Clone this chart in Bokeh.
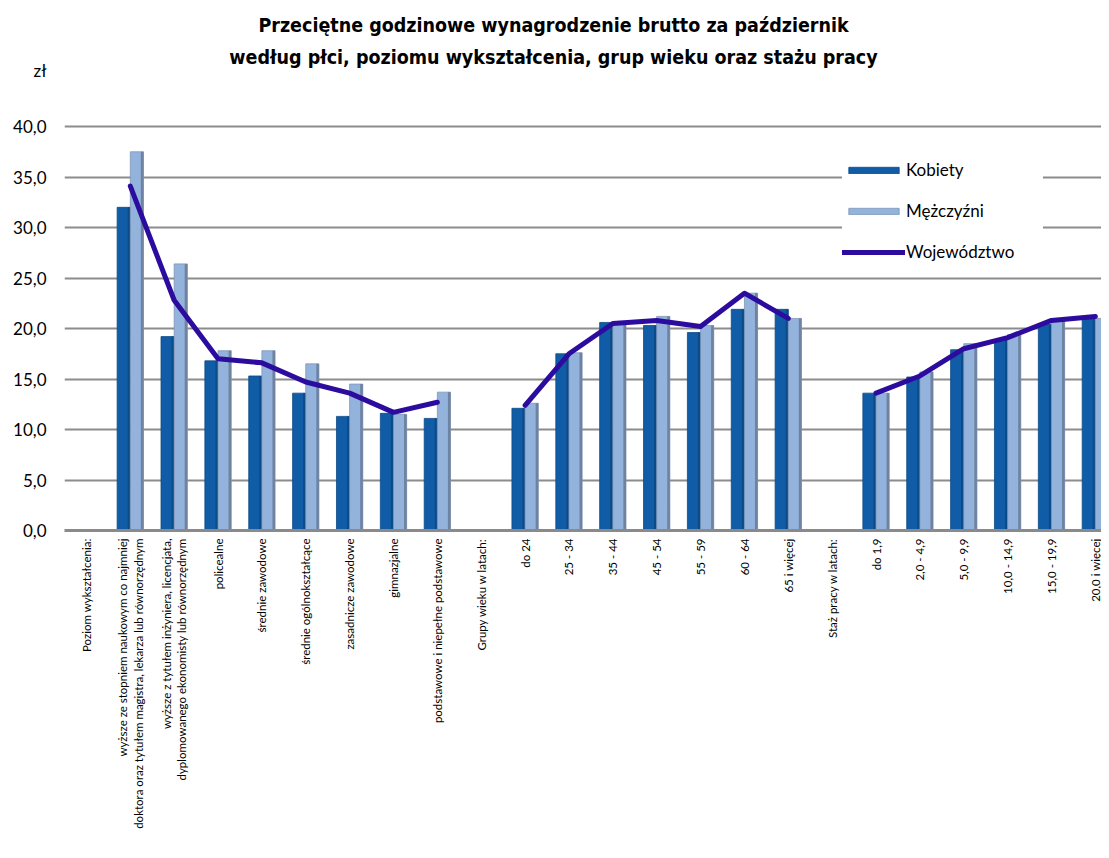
import math
from bokeh.plotting import figure
from bokeh.models import (ColumnDataSource, Range1d, FixedTicker, Legend,
                          LegendItem, Label)
from bokeh.embed import file_html
from bokeh.resources import INLINE

nan = float("nan")

title_lines = [
    "Przeciętne godzinowe wynagrodzenie brutto za październik",
    "według płci, poziomu wykształcenia, grup wieku oraz stażu pracy",
]
unit_label = "zł"

categories = [
    "Poziom wykształcenia:",
    "wyższe ze stopniem naukowym co najmniej\ndoktora oraz tytułem magistra, lekarza lub równorzędnym",
    "wyższe z tytułem inżyniera, licencjata,\ndyplomowanego ekonomisty lub równorzędnym",
    "policealne",
    "średnie zawodowe",
    "średnie ogólnokształcące",
    "zasadnicze zawodowe",
    "gimnazjalne",
    "podstawowe i niepełne podstawowe",
    "Grupy wieku w latach:",
    "do 24",
    "25 - 34",
    "35 - 44",
    "45 - 54",
    "55 - 59",
    "60 - 64",
    "65 i więcej",
    "Staż pracy w latach:",
    "do 1,9",
    "2,0 - 4,9",
    "5,0 - 9,9",
    "10,0 - 14,9",
    "15,0 - 19,9",
    "20,0 i więcej",
]

kobiety = [nan, 32.0, 19.2, 16.8, 15.3, 13.6, 11.3, 11.6, 11.1,
           nan, 12.1, 17.5, 20.6, 20.3, 19.6, 21.9, 21.9,
           nan, 13.6, 15.2, 17.9, 18.9, 20.4, 21.2]
mezczyzni = [nan, 37.5, 26.4, 17.8, 17.8, 16.5, 14.5, 11.5, 13.7,
             nan, 12.6, 17.6, 20.4, 21.2, 20.3, 23.5, 21.0,
             nan, 13.6, 15.7, 18.5, 19.4, 20.9, 21.0]
wojewodztwo = [nan, 34.1, 22.8, 17.0, 16.6, 14.7, 13.6, 11.7, 12.7,
               nan, 12.4, 17.5, 20.5, 20.8, 20.2, 23.5, 21.0,
               nan, 13.6, 15.3, 18.0, 19.1, 20.8, 21.2]

series_names = ["Kobiety", "Mężczyźni", "Województwo"]
y_ticks = [0, 5, 10, 15, 20, 25, 30, 35, 40]
unit_tick = 45.5   # where the unit label sits on the value axis

idx = list(range(len(categories)))
BW = 0.3
src = ColumnDataSource(dict(
    x=idx,
    xk=[i - BW / 2 for i in idx],
    xm=[i + BW / 2 for i in idx],
    xme=[i + BW - 0.03 for i in idx],
    xke=[i - 0.03 for i in idx],
    k=kobiety, m=mezczyzni, w=wojewodztwo,
))

W, H = 1101, 842
p = figure(width=W, height=H,
           x_range=Range1d(-0.5, 23.14), y_range=Range1d(0, 52.48),
           output_backend="svg", toolbar_location=None,
           min_border_left=64, min_border_right=0,
           min_border_top=0, min_border_bottom=312)
p.outline_line_color = None
p.background_fill_color = "white"

# bars
rk = p.vbar(x="xk", top="k", width=BW, source=src,
            fill_color="#115ca6", line_color="#0d4a86", line_width=0.8)
p.vbar(x="xke", top="k", width=0.06, source=src,
       fill_color="#0c4a88", line_color=None)
rm = p.vbar(x="xm", top="m", width=BW, source=src,
            fill_color="#93b3dc", line_color="#7d95b6", line_width=0.8)
p.vbar(x="xme", top="m", width=0.06, source=src,
       fill_color="#6f83a1", line_color=None)

# line
rl = p.line(x="x", y="w", source=src, line_color="#2b0c9e", line_width=5,
            line_join="round", line_cap="round")

# axes
overrides = {t: f"{t:.1f}".replace(".", ",") for t in y_ticks}
overrides[unit_tick] = unit_label
p.yaxis.ticker = FixedTicker(ticks=y_ticks + [unit_tick])
p.yaxis.major_label_overrides = overrides
p.yaxis.axis_line_color = None
p.yaxis.major_tick_line_color = None
p.yaxis.major_tick_out = 0
p.yaxis.major_tick_in = 0
p.yaxis.minor_tick_line_color = None
p.yaxis.major_label_standoff = 18
p.yaxis.major_label_text_font = "Lato"
p.yaxis.major_label_text_font_size = "17px"
p.yaxis.major_label_text_color = "#000000"

p.xaxis.ticker = FixedTicker(ticks=idx)
p.xaxis.major_label_overrides = {i: c for i, c in enumerate(categories)}
p.xaxis.major_label_orientation = math.pi / 2
p.xaxis.major_tick_line_color = None
p.xaxis.major_tick_out = 0
p.xaxis.major_tick_in = 0
p.xaxis.minor_tick_line_color = None
p.xaxis.axis_line_color = "#8a8a8a"
p.xaxis.axis_line_width = 3
p.xaxis.major_label_standoff = 8
p.xaxis.major_label_text_font = "Lato"
p.xaxis.major_label_text_font_size = "11.5px"
p.xaxis.major_label_text_color = "#000000"

p.xgrid.grid_line_color = None
p.ygrid.ticker = FixedTicker(ticks=y_ticks)
p.ygrid.grid_line_color = "#8c8c8c"
p.ygrid.grid_line_width = 2

legend = Legend(items=[
    LegendItem(label=series_names[0], renderers=[rk]),
    LegendItem(label=series_names[1], renderers=[rm]),
    LegendItem(label=series_names[2], renderers=[rl]),
], location=(778, 268))
legend.background_fill_color = "white"
legend.background_fill_alpha = 1.0
legend.border_line_color = None
legend.padding = 5
legend.spacing = 20
legend.glyph_width = 63
legend.glyph_height = 8
legend.label_standoff = 1
legend.label_width = 137
legend.label_height = 20
legend.label_text_font = "Lato"
legend.label_text_font_size = "17px"
legend.label_text_color = "#000000"
p.add_layout(legend, "center")

# two-line title (positions relative to the plot frame)
TITLE_FONT = "'DejaVu Sans Condensed', 'Roboto', sans-serif"
for txt, yy in zip(title_lines, [505, 473]):
    p.add_layout(Label(x=489, y=yy, x_units="screen", y_units="screen",
                       text=txt, text_align="center", text_baseline="middle",
                       text_font=TITLE_FONT, text_font_style="bold",
                       text_font_size="19.5px", text_color="#000000"))

open("out.html", "w").write(file_html(p, INLINE))
